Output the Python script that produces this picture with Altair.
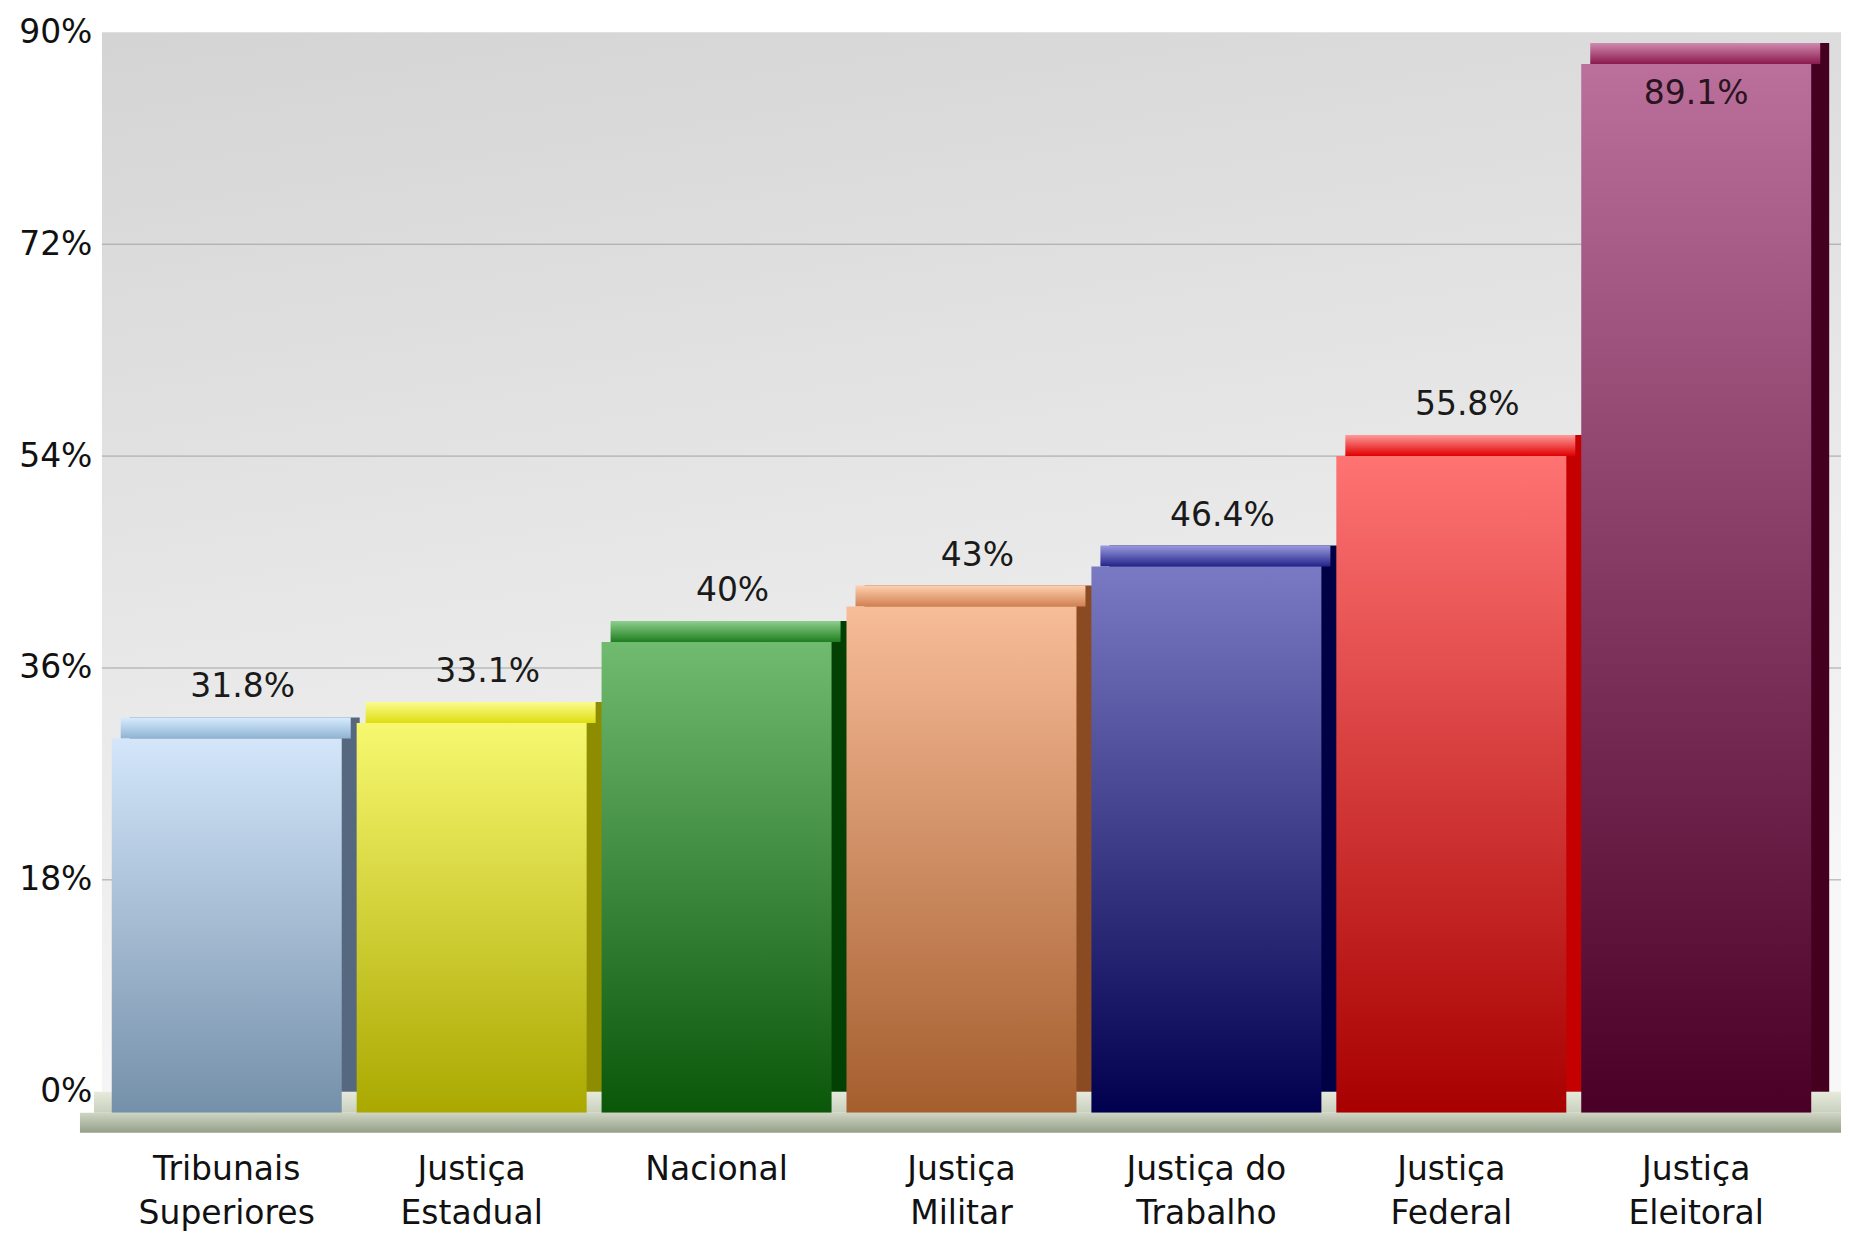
import altair as alt
import pandas as pd

categories = ["Tribunais\nSuperiores", "Justiça\nEstadual", "Nacional", "Justiça\nMilitar",
              "Justiça do\nTrabalho", "Justiça\nFederal", "Justiça\nEleitoral"]
values = [31.8, 33.1, 40, 43, 46.4, 55.8, 89.1]
value_labels = ["31.8%", "33.1%", "40%", "43%", "46.4%", "55.8%", "89.1%"]
y_ticks = [0, 18, 36, 54, 72, 90]
grid_ticks = [18, 36, 54, 72]

front_top = ["#d3e6fa", "#f8f870", "#70bb70", "#f7bc98", "#7a7ac4", "#ff7373", "#ba709b"]
front_bottom = ["#7590aa", "#aaa800", "#0a570a", "#a55e2e", "#00004f", "#a80000", "#4a0026"]
side_colors = ["#56687f", "#8e8c00", "#034003", "#8a4a22", "#000045", "#c40000", "#45001f"]
top_back = ["#d8ecff", "#fbfb90", "#8fcf8f", "#ffd0b0", "#9a9ade", "#ff9a9a", "#d08ab0"]
top_front = ["#8fb3d3", "#dede10", "#1f7f1f", "#d08050", "#22228a", "#e00000", "#8a1a4e"]

df = pd.DataFrame({"cat": categories, "value": values, "label": value_labels})
grid_df = pd.DataFrame({"tick": grid_ticks})

W, H = 1720, 1060
FONT = "DejaVu Sans"
FS = 33
DX, DY = 18, 21
RIGHT_EXT = {"expr": "width + 20"}


def grad(c1, c2, x2=0, y2=1):
    return alt.LinearGradient(
        gradient="linear",
        stops=[alt.GradientStop(color=c1, offset=0), alt.GradientStop(color=c2, offset=1)],
        x1=0, y1=0, x2=x2, y2=y2,
    )


yscale = alt.Scale(domain=[0, 90], nice=False, zero=True)
yaxis = alt.Axis(title=None, values=y_ticks, labelExpr="datum.value + '%'", ticks=False,
                 domain=False, grid=False, labelFont=FONT, labelFontSize=FS,
                 labelColor="#111111", labelPadding=10)
xscale = alt.Scale(domain=categories, paddingInner=0.061, paddingOuter=0.04)
xaxis = alt.Axis(title=None, labelExpr="split(datum.label, '\\n')", labelAngle=0, ticks=False,
                 domain=False, labelFont=FONT, labelFontSize=FS, labelColor="#111111",
                 labelPadding=62, labelLineHeight=44, labelBaseline="top", labelLimit=0)

X = alt.X("cat:N", scale=xscale, axis=xaxis, sort=categories)
Y = alt.Y("value:Q", scale=yscale, axis=yaxis)

one = alt.Data(values=[{"k": 1}])

background = alt.Chart(one).mark_rect(
    color=grad("#d4d4d4", "#f7f7f7", x2=0.25, y2=1)
).encode(
    x=alt.value(0), x2=alt.value(RIGHT_EXT),
    y=alt.Y(datum=90, scale=yscale, axis=yaxis), y2=alt.datum(0),
)

grid = alt.Chart(grid_df).mark_rule(color="#a3a3a3", strokeWidth=1).encode(
    y=alt.Y("tick:Q", scale=yscale, axis=yaxis),
    x=alt.value(0), x2=alt.value(RIGHT_EXT),
)

floor_top = alt.Chart(one).mark_rect(
    color=grad("#e6eadc", "#c9d0bd"), y2Offset=DY
).encode(
    x=alt.value(-8), x2=alt.value(RIGHT_EXT),
    y=alt.Y(datum=0, scale=yscale, axis=yaxis), y2=alt.datum(0),
)

floor_front = alt.Chart(one).mark_rect(
    color=grad("#cfd6c4", "#949f88"), yOffset=DY, y2Offset=DY + 20
).encode(
    x=alt.value(-22), x2=alt.value(RIGHT_EXT),
    y=alt.Y(datum=0, scale=yscale, axis=yaxis), y2=alt.datum(0),
)

side = alt.Chart(df).mark_bar(xOffset=DX).encode(
    x=X, y=Y,
    color=alt.Color("cat:N", scale=alt.Scale(domain=categories, range=side_colors), legend=None),
)

layers = [background, grid, floor_top, side]

for i, c in enumerate(categories):
    top = alt.Chart(df).transform_filter(alt.datum.cat == c).mark_bar(
        color=grad(top_back[i], top_front[i]), xOffset=DX / 2, y2Offset=DY
    ).encode(x=X, y=Y, y2="value:Q")
    front = alt.Chart(df).transform_filter(alt.datum.cat == c).mark_bar(
        color=grad(front_top[i], front_bottom[i]), yOffset=DY, y2Offset=DY
    ).encode(x=X, y=Y)
    layers += [top, front]

layers.append(floor_front)

text_out = alt.Chart(df).transform_filter(alt.datum.value < 80).mark_text(
    font=FONT, fontSize=FS, color="#1a1a1a", dy=-30, dx=16, baseline="middle"
).encode(x=X, y=Y, text="label:N")

text_in = alt.Chart(df).transform_filter(alt.datum.value >= 80).mark_text(
    font=FONT, fontSize=FS, color="#2a1420", dy=51, dx=0, baseline="middle"
).encode(x=X, y=Y, text="label:N")

layers += [text_out, text_in]

chart = alt.layer(*layers).properties(
    width=W, height=H,
    padding={"left": 10, "top": 8, "right": 0, "bottom": 0},
    background="white",
).configure_view(strokeWidth=0)

chart.save("out.html", embed_options={"renderer": "svg", "actions": False})
